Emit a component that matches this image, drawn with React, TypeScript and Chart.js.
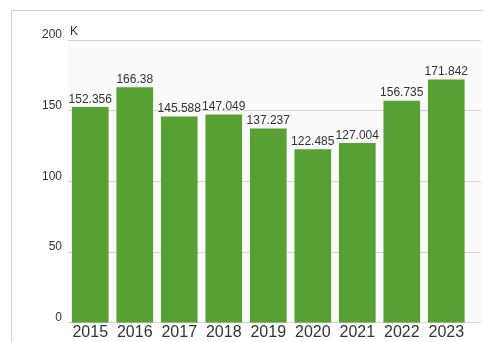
import React, { useEffect, useRef } from "react";
import { Chart, registerables } from "chart.js";

Chart.register(...registerables);

const years = ["2015", "2016", "2017", "2018", "2019", "2020", "2021", "2022", "2023"];
const values = [152.356, 166.38, 145.588, 147.049, 137.237, 122.485, 127.004, 156.735, 171.842];
const yTicks = [0, 50, 100, 150, 200];
const unitLabel = "K";

const barColor = "#57a033";
const textColor = "#333333";
const gridColor = "#d4d4d4";

const extras = {
  id: "extras",
  beforeDraw(chart: any) {
    const { ctx, chartArea, width, height } = chart;
    ctx.save();
    ctx.strokeStyle = "#cfcfcf";
    ctx.lineWidth = 1;
    ctx.beginPath();
    ctx.moveTo(width, 10.5);
    ctx.lineTo(11.5, 10.5);
    ctx.lineTo(11.5, height);
    ctx.stroke();
    ctx.fillStyle = "#fafafa";
    ctx.fillRect(chartArea.left, chartArea.top, chartArea.right - chartArea.left, chartArea.bottom - chartArea.top);
    ctx.restore();
  },
  afterDatasetsDraw(chart: any) {
    const { ctx, chartArea } = chart;
    const meta = chart.getDatasetMeta(0);
    ctx.save();
    ctx.font = "12px 'Liberation Sans', Arial, sans-serif";
    ctx.fillStyle = textColor;
    ctx.textAlign = "center";
    ctx.textBaseline = "bottom";
    meta.data.forEach((bar: any, i: number) => {
      ctx.fillText(String(values[i]), bar.x, bar.y - 2);
    });
    ctx.textAlign = "left";
    ctx.fillText(unitLabel, chartArea.left + 2, chartArea.top - 2);
    ctx.restore();
  },
};

export default function App() {
  const ref = useRef<HTMLCanvasElement>(null);
  useEffect(() => {
    if (!ref.current) return;
    const chart = new Chart(ref.current, {
      type: "bar",
      data: {
        datasets: [
          {
            data: values.map((v, i) => ({ x: i, y: v })),
            backgroundColor: barColor,
            borderWidth: 0,
            barThickness: 36,
          },
        ],
      },
      options: {
        animation: false,
        responsive: false,
        maintainAspectRatio: false,
        layout: { padding: { top: 40, right: 2, left: 0, bottom: 0 } },
        plugins: { legend: { display: false }, tooltip: { enabled: false } },
        scales: {
          x: {
            type: "linear",
            offset: false,
            min: -0.5,
            max: 8.78,
            grid: { display: false, drawTicks: false },
            border: { display: false },
            afterBuildTicks: (axis: any) => {
              axis.ticks = years.map((_, i) => ({ value: i }));
            },
            ticks: {
              padding: 0,
              color: textColor,
              font: { family: "'Liberation Sans', Arial, sans-serif", size: 16 },
              callback: (v: any) => years[v as number] ?? "",
              maxRotation: 0,
              autoSkip: false,
            },
          },
          y: {
            min: 0,
            max: 200,
            afterBuildTicks: (axis: any) => {
              axis.ticks = yTicks.map((v) => ({ value: v }));
            },
            afterFit: (axis: any) => {
              axis.width = 68;
            },
            grid: { color: gridColor, drawTicks: false, lineWidth: 1 },
            border: { display: false },
            ticks: {
              padding: 6,
              labelOffset: -5,
              color: textColor,
              font: { family: "'Liberation Sans', Arial, sans-serif", size: 12 },
            },
          },
        },
      },
      plugins: [extras],
    });
    return () => chart.destroy();
  }, []);
  return (
    <div style={{ position: "fixed", left: 0, top: 0, width: 483, height: 342, overflow: "hidden", background: "#fff" }}>
      <canvas ref={ref} width={483} height={342} style={{ position: "absolute", left: 0, top: 0, width: 483, height: 342 }} />
    </div>
  );
}
